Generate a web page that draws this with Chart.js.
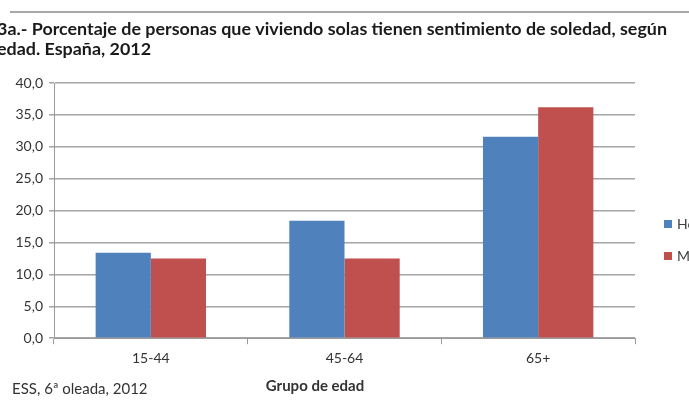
<!DOCTYPE html>
<html>
<head>
<meta charset="utf-8">
<script src="https://cdn.jsdelivr.net/npm/chart.js@4.4.1/dist/chart.umd.min.js"></script>
<style>
    html, body { margin: 0; padding: 0; background: #fff; overflow: hidden; }
    #wrap { position: relative; width: 692px; height: 409px; margin-left: -3px; }
</style>
</head>
<body>
<div id="wrap"><canvas id="soledadChart" width="692" height="409"></canvas></div>
<script>
var titleLines = ['3a.- Porcentaje de personas que viviendo solas tienen sentimiento de soledad, según', 'edad. España, 2012'];
var ageGroups = ['15-44', '45-64', '65+'];
var hombres = [13.4, 18.4, 31.6];
var mujeres = [12.5, 12.5, 36.2];
var seriesNames = ['Hombres', 'Mujeres'];
var yTicks = [0, 5, 10, 15, 20, 25, 30, 35, 40];
var axisTitle = 'Grupo de edad';
var sourceNote = 'ESS, 6ª oleada, 2012';

var fontFamily = 'Lato, "Liberation Sans", sans-serif';

// top rule, legend (cut at the right edge like the original) and footer texts
var extrasPlugin = {
    id: 'extras',
    beforeDraw: function(chart) {
        var ctx = chart.ctx;
        ctx.save();
        ctx.strokeStyle = '#a8a8a8';
        ctx.lineWidth = 2;
        ctx.beginPath();
        ctx.moveTo(13, 12);
        ctx.lineTo(chart.width, 12);
        ctx.stroke();
        ctx.restore();
    },
    afterDraw: function(chart) {
        var ctx = chart.ctx;
        var area = chart.chartArea;
        ctx.save();
        ctx.font = '14px ' + fontFamily;
        ctx.textBaseline = 'middle';
        chart.data.datasets.forEach(function(ds, i) {
            var y = 224 + i * 32;
            ctx.fillStyle = ds.backgroundColor;
            ctx.fillRect(area.right + 29, y - 4, 8, 8);
            ctx.fillStyle = '#404040';
            ctx.fillText(ds.label, area.right + 42, y);
        });
        ctx.font = '15px ' + fontFamily;
        ctx.fillStyle = '#333';
        ctx.fillText(sourceNote, 15, 389);
        ctx.font = 'bold 15px ' + fontFamily;
        ctx.textAlign = 'center';
        ctx.fillText(axisTitle, 318, 386);
        ctx.restore();
    }
};

var ctx = document.getElementById('soledadChart').getContext('2d');
var chart = new Chart(ctx, {
    type: 'bar',
    data: {
        labels: ageGroups,
        datasets: [{
            label: seriesNames[0],
            data: hombres,
            backgroundColor: '#4f81bd',
            barPercentage: 1,
            categoryPercentage: 0.57
        }, {
            label: seriesNames[1],
            data: mujeres,
            backgroundColor: '#c0504d',
            barPercentage: 1,
            categoryPercentage: 0.57
        }]
    },
    options: {
        responsive: false,
        animation: false,
        layout: { padding: { top: 0, right: 0, bottom: 36, left: 0 } },
        plugins: {
            legend: { display: false },
            tooltip: { enabled: false },
            title: {
                display: true,
                text: titleLines,
                align: 'start',
                color: '#1a1a1a',
                font: { family: fontFamily, size: 17.9, weight: 'bold', lineHeight: 1.12 },
                padding: { top: 19, bottom: 24 }
            }
        },
        scales: {
            x: {
                grid: { drawOnChartArea: false, drawTicks: true, tickLength: 6, color: '#9a9a9a', offset: true },
                border: { color: '#9a9a9a' },
                ticks: { color: '#333', font: { family: fontFamily, size: 14 }, padding: 6 }
            },
            y: {
                min: 0,
                max: 40,
                afterFit: function(scale) { scale.width = 57; },
                afterBuildTicks: function(scale) {
                    scale.ticks = yTicks.map(function(v) { return { value: v }; });
                },
                grid: { color: '#a4a4a4', lineWidth: 1.5, tickLength: 5 },
                border: { color: '#9a9a9a' },
                ticks: {
                    color: '#333',
                    font: { family: fontFamily, size: 14 },
                    padding: 6,
                    callback: function(v) { return v.toFixed(1).replace('.', ','); }
                }
            },
            // empty right-hand axis: keeps room for the legend
            yRight: {
                position: 'right',
                min: 0,
                max: 40,
                afterFit: function(scale) { scale.width = 54; },
                grid: { display: false },
                border: { display: false },
                ticks: { display: false }
            }
        }
    },
    plugins: [extrasPlugin]
});
</script>
</body>
</html>
